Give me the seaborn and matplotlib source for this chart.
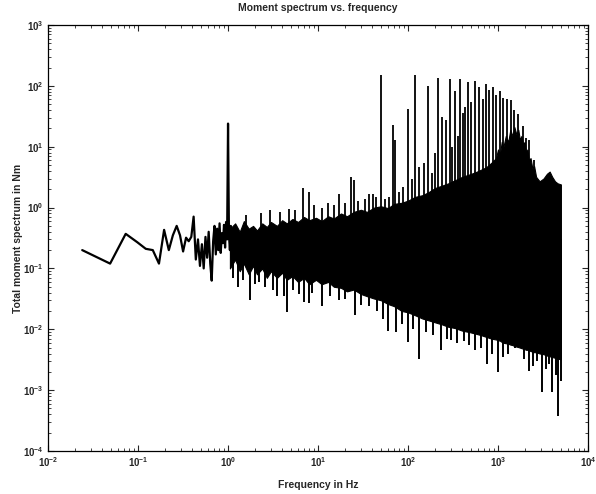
import numpy as np
import pandas as pd
import matplotlib
matplotlib.use("Agg")
import matplotlib.pyplot as plt
import seaborn as sns

# ---- data ----
# low-frequency part of the spectrum (individual points)
low_freq = [0.024, 0.049, 0.073, 0.098, 0.122, 0.146, 0.171, 0.195, 0.220, 0.244,
            0.269, 0.293, 0.317, 0.342, 0.366, 0.391, 0.415, 0.439, 0.464, 0.488,
            0.513, 0.537, 0.562, 0.586, 0.610, 0.635, 0.659, 0.684, 0.708, 0.732,
            0.757, 0.781, 0.806, 0.830, 0.854, 0.879, 0.903, 0.928, 0.952, 0.977,
            1.001, 1.025, 1.050, 1.074, 1.099]
low_vals = [0.20, 0.12, 0.37, 0.27, 0.21, 0.20, 0.12, 0.43, 0.20, 0.35,
            0.50, 0.35, 0.19, 0.32, 0.28, 0.33, 0.71, 0.14, 0.30, 0.11,
            0.25, 0.10, 0.33, 0.15, 0.40, 0.12, 0.063, 0.28, 0.50, 0.17,
            0.45, 0.20, 0.55, 0.18, 0.38, 0.26, 0.52, 0.22, 0.58, 0.30,
            24.0, 0.35, 0.20, 0.50, 0.15]

# dense band: frequency, upper and lower envelope
band_freq = [1.05, 1.2, 1.35, 1.5, 1.7, 1.9, 2.1, 2.4, 2.7, 3.0,
             3.5, 4.0, 4.5, 5.2, 6.0, 7.0, 8.0, 9.5, 11, 13,
             15, 18, 21, 25, 30, 35, 42, 50, 60, 70,
             85, 100, 120, 145, 170, 200, 240, 280, 330, 400,
             480, 560, 650, 740, 850, 950, 1000, 1050, 1100, 1150,
             1220, 1300, 1370, 1450, 1520, 1600, 1680, 1750, 1820, 1900,
             1980, 2050, 2120, 2200, 2300, 2400, 2520, 2650, 2900, 3200,
             3500, 3750, 4000, 4300, 4600, 5000]
band_upper = [0.45, 0.55, 0.40, 0.60, 0.45, 0.50, 0.42, 0.55, 0.48, 0.58,
              0.50, 0.62, 0.55, 0.65, 0.58, 0.70, 0.62, 0.68, 0.60, 0.72,
              0.66, 0.80, 0.72, 0.85, 0.92, 0.85, 1.0, 1.05, 0.98, 1.15,
              1.2, 1.3, 1.5, 1.6, 1.8, 2.1, 2.3, 2.5, 2.8, 3.2,
              3.5, 3.8, 4.2, 4.6, 5.5, 6.5, 9.0, 7.5, 12, 10,
              15, 12, 19, 15, 21, 16, 19, 13, 15, 11,
              12, 8.0, 9.0, 6.0, 6.5, 4.5, 4.8, 3.2, 2.7, 3.0,
              3.6, 3.9, 3.2, 2.7, 2.5, 2.4]
band_lower = [0.10, 0.14, 0.09, 0.12, 0.08, 0.11, 0.08, 0.10, 0.07, 0.09,
              0.07, 0.085, 0.065, 0.075, 0.06, 0.07, 0.055, 0.065, 0.055, 0.06,
              0.05, 0.048, 0.042, 0.045, 0.038, 0.035, 0.032, 0.03, 0.026, 0.024,
              0.02, 0.019, 0.017, 0.015, 0.014, 0.013, 0.012, 0.011, 0.0105, 0.0095,
              0.009, 0.0085, 0.008, 0.0075, 0.007, 0.0068, 0.0066, 0.0065, 0.0062, 0.006,
              0.0059, 0.0058, 0.0056, 0.0055, 0.0053, 0.0052, 0.0051, 0.005, 0.0049, 0.0048,
              0.0047, 0.0046, 0.0046, 0.0045, 0.0044, 0.0043, 0.0042, 0.0042, 0.004, 0.0039,
              0.0037, 0.0036, 0.0035, 0.0034, 0.0033, 0.0032]

# isolated peaks above the band
peak_freq = [1.6, 2.3, 2.9, 3.8, 4.8, 5.6, 6.8, 7.9, 9.0, 11,
             13, 15, 16.9, 20, 23, 25, 28, 33, 37, 41,
             44, 50, 55, 62, 69, 71, 80, 88, 100, 110,
             120, 133, 150, 166, 185, 200, 215, 240, 265, 293,
             310, 333, 355, 380, 410, 430, 460, 500, 550, 620,
             680, 730, 800, 880, 950, 1050, 1150, 1250, 1390, 1500,
             1660, 1890, 2050, 2200, 2500]
peak_vals = [0.75, 0.8, 0.91, 0.85, 0.95, 0.9, 2.1, 1.8, 1.1, 1.0,
             1.2, 1.1, 1.7, 1.2, 3.2, 2.8, 1.3, 1.4, 1.7, 1.7,
             1.5, 150, 1.4, 1.5, 23, 13, 1.8, 2.2, 42, 3.0,
             150, 4.7, 5.5, 100, 3.7, 8.0, 135, 31, 28, 130,
             10, 83, 15, 130, 36, 45, 115, 55, 120, 95,
             60, 108, 85, 95, 70, 83, 62, 60, 59, 40,
             35, 22, 14, 13, 6]

# isolated dips below the band
dip_freq = [1.15, 1.3, 1.45, 1.75, 2.0, 2.2, 2.6, 3.2, 3.5, 4.2,
            4.5, 5.3, 6.1, 7.0, 7.9, 8.6, 11, 13.5, 17, 20,
            26, 30, 37, 45, 53, 60, 74, 85, 100, 115,
            132, 160, 190, 230, 270, 300, 350, 420, 480, 560,
            640, 760, 860, 1000, 1150, 1300, 1560, 1950, 2200, 2450,
            2700, 3100, 3400, 3700, 4000, 4400, 4700, 5000]
dip_vals = [0.07, 0.05, 0.065, 0.03, 0.055, 0.06, 0.05, 0.045, 0.035, 0.035,
            0.019, 0.045, 0.038, 0.028, 0.027, 0.04, 0.024, 0.035, 0.03, 0.032,
            0.017, 0.025, 0.024, 0.02, 0.015, 0.0093, 0.009, 0.012, 0.0062, 0.01,
            0.0033, 0.009, 0.008, 0.0046, 0.007, 0.0067, 0.006, 0.0065, 0.0055, 0.0045,
            0.005, 0.0027, 0.004, 0.002, 0.0035, 0.004, 0.005, 0.0033, 0.0021, 0.0025,
            0.003, 0.00093, 0.0022, 0.0027, 0.00093, 0.0018, 0.00038, 0.0014]

x_ticks = [1e-2, 1e-1, 1e0, 1e1, 1e2, 1e3, 1e4]
y_ticks = [1e-4, 1e-3, 1e-2, 1e-1, 1e0, 1e1, 1e2, 1e3]

title = "Moment spectrum vs. frequency"
xlabel = "Frequency in Hz"
ylabel = "Total moment spectrum in Nm"

# ---- figure ----
sns.set_style("ticks")
plt.rcParams["font.family"] = ["Liberation Sans", "DejaVu Sans"]
plt.rcParams["mathtext.fontset"] = "custom"
plt.rcParams["mathtext.rm"] = "Liberation Sans:bold"
plt.rcParams["mathtext.default"] = "rm"

fig = plt.figure(figsize=(5.96, 4.94), dpi=100)
ax = fig.add_axes([48 / 596, 43 / 494, 540 / 596, 426 / 494])

low_df = pd.DataFrame({"f": low_freq, "v": low_vals})
sns.lineplot(data=low_df, x="f", y="v", ax=ax, color="black", lw=1.6,
             estimator=None, sort=False)

ax.fill_between(band_freq, band_lower, band_upper, color="black", lw=0.8,
                edgecolor="black")
ax.vlines(peak_freq, 0.3, peak_vals, color="black", lw=1.3)
ax.vlines(dip_freq, dip_vals, 0.3, color="black", lw=1.4)

ax.set_xscale("log")
ax.set_yscale("log")
ax.set_xlim(1e-2, 1e4)
ax.set_ylim(1e-4, 1e3)
ax.set_xticks(x_ticks)
ax.set_yticks(y_ticks)

ax.set_title(title, fontsize=7.5, fontweight="bold", pad=10)
ax.set_xlabel(xlabel, fontsize=7.5, fontweight="bold", labelpad=8)
ax.set_ylabel(ylabel, fontsize=7.5, fontweight="bold", labelpad=0)

ax.tick_params(which="both", direction="in", top=True, right=True,
               labelsize=7, pad=3)
ax.tick_params(which="major", length=4, width=0.8)
ax.tick_params(which="minor", length=2, width=0.6)
for lab in ax.get_xticklabels() + ax.get_yticklabels():
    lab.set_fontweight("bold")
for sp in ax.spines.values():
    sp.set_visible(True)
    sp.set_linewidth(0.9)
    sp.set_color("black")

fig.savefig("out.png", dpi=100)
